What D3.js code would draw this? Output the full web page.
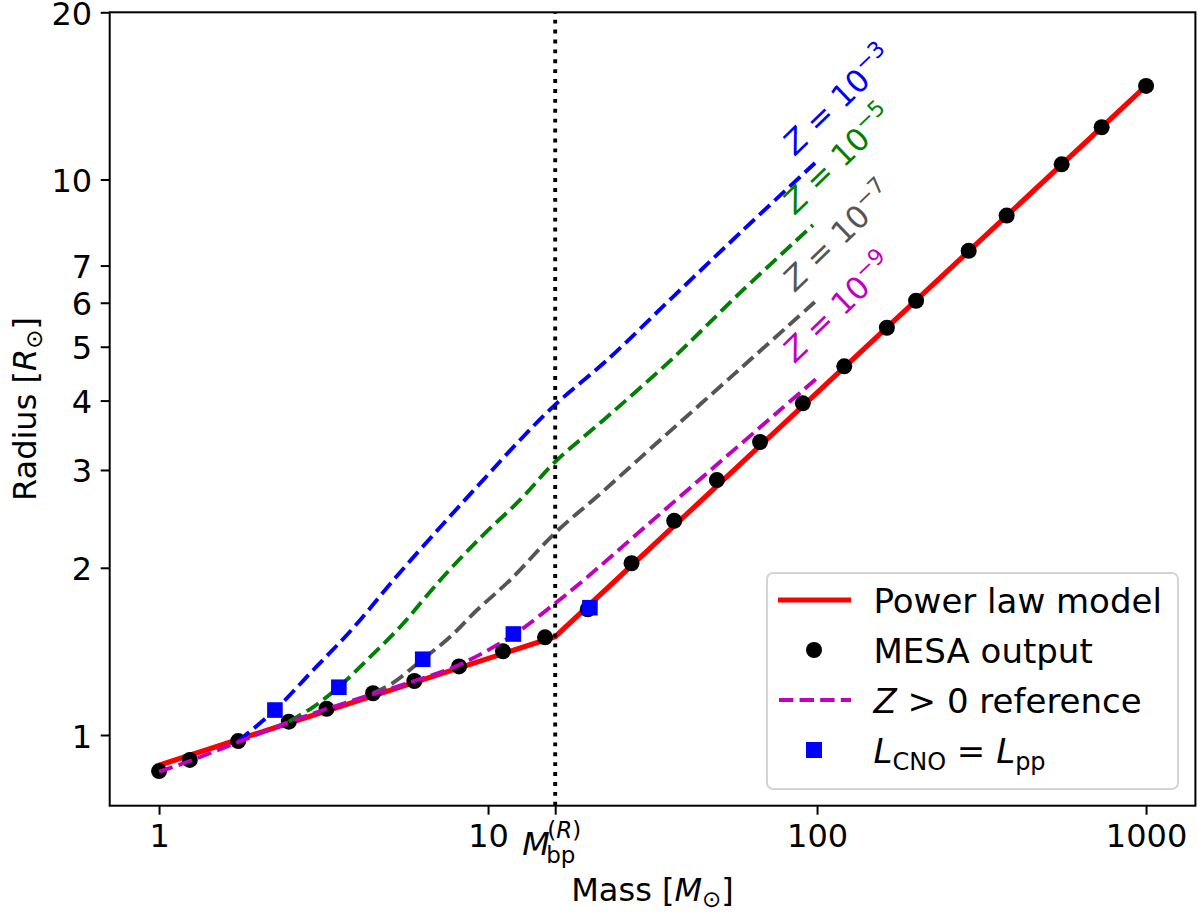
<!DOCTYPE html>
<html lang="en">
<head>
<meta charset="UTF-8">
<title>Radius vs Mass</title>
<script src="https://cdn.jsdelivr.net/npm/d3@7"></script>
<style>
	*{ margin:0; box-sizing:border-box; }
	html,body{ width:1198px; height:917px; overflow:hidden; background:#fff; }
	svg text{ font-family:"DejaVu Sans", sans-serif; fill:#000; }
	.axis path{ stroke:none; }
	.axis line{ stroke:#000; stroke-width:2; }
	.axis text{ font-size:32px; }
</style>
</head>
<body>
<svg id="svg"></svg>
<script>
// MESA output (black dots)
var mesaMass   = [1, 1.24, 1.74, 2.48, 3.23, 4.47, 5.97, 8.16, 11.1, 14.9, 20.1, 27.3, 36.8, 49.6, 67.1, 90.5, 121, 163, 200, 289, 377, 554, 733, 1000];
var mesaRadius = [0.861, 0.902, 0.975, 1.057, 1.115, 1.189, 1.251, 1.329, 1.415, 1.499, 1.684, 2.038, 2.43, 2.877, 3.369, 3.955, 4.61, 5.41, 6.05, 7.44, 8.61, 10.65, 12.42, 14.74];

// L_CNO = L_pp (blue squares)
var cnoMass   = [2.25, 3.52, 6.33, 11.94, 20.4];
var cnoRadius = [1.109, 1.219, 1.369, 1.52, 1.695];

// power law model (red)
var powMass   = [1, 16, 1000];
var powRadius = [0.882, 1.503, 14.74];

// Z > 0 reference (magenta)
var refMass   = [1, 1.242, 1.74, 2.48, 3.23, 4.47, 5.97, 8.16, 11.94, 15.76, 19.04, 30.4, 48.3, 77.2, 100];
var refRadius = [0.859, 0.898, 0.971, 1.055, 1.114, 1.185, 1.251, 1.337, 1.514, 1.714, 1.876, 2.385, 3.025, 3.846, 4.39];

// Z = 1e-3, 1e-5, 1e-7 curves
var z3Mass   = [1.74, 2.25, 2.94, 3.89, 5.22, 7.30, 9.66, 12.51, 15.98, 23.0, 36.5, 58.3, 98.6];
var z3Radius = [0.975, 1.109, 1.309, 1.558, 1.917, 2.398, 2.877, 3.397, 3.93, 4.73, 6.15, 8.01, 10.71];
var z5Mass   = [2.48, 2.94, 3.52, 4.29, 5.40, 7.25, 9.66, 12.51, 15.98, 23.0, 36.5, 58.3, 97.2];
var z5Radius = [1.057, 1.123, 1.22, 1.365, 1.565, 1.917, 2.291, 2.649, 3.101, 3.737, 4.77, 6.25, 8.28];
var z7Mass   = [4.47, 5.14, 6.33, 7.66, 9.26, 11.67, 15.98, 21.9, 31.1, 58.3, 100];
var z7Radius = [1.189, 1.241, 1.369, 1.501, 1.679, 1.901, 2.31, 2.716, 3.273, 4.56, 6.07];

var zExponents = ["3", "5", "7", "9"];
var zColors    = ["#0000ff", "#008000", "#555555", "#bf00bf"];
var zLabelMass   = 86;
var zLabelRadius = [11.02, 8.63, 6.27, 4.67];

var breakMass = 16;
var xTicks = [1, 10, breakMass, 100, 1000];
var yTicks = [1, 2, 3, 4, 5, 6, 7, 10, 20];

var W = 1198, H = 917,
	padL = 109.7, padR = 1195.4, padT = 12.3, padB = 805.7;

var svg = d3.select("#svg").attr("width", W).attr("height", H);

var x = d3.scaleLog().domain([Math.pow(10, -0.15), Math.pow(10, 3.15)]).range([padL, padR]);
var y = d3.scaleLog().domain([0.746, 20]).range([padB, padT]);

function zip(ms, rs) {
	return ms.map(function(m, i) { return [m, rs[i]]; });
}
var line = d3.line().x(function(d) { return x(d[0]); }).y(function(d) { return y(d[1]); });
var smooth = d3.line().curve(d3.curveCatmullRom.alpha(0.5))
	.x(function(d) { return x(d[0]); }).y(function(d) { return y(d[1]); });

svg.append("clipPath").attr("id", "clip")
	.append("rect").attr("x", padL).attr("y", padT).attr("width", padR - padL).attr("height", padB - padT);

var plot = svg.append("g").attr("clip-path", "url(#clip)");

// red power law
plot.append("path").datum(zip(powMass, powRadius))
	.attr("d", line).attr("fill", "none").attr("stroke", "#ff0000").attr("stroke-width", 5.2);

// black dots
plot.selectAll(".dot").data(zip(mesaMass, mesaRadius)).enter()
	.append("circle").attr("class", "dot")
	.attr("cx", function(d) { return x(d[0]); })
	.attr("cy", function(d) { return y(d[1]); })
	.attr("r", 8).attr("fill", "#000");

// Z curves
var zCurves = [zip(z3Mass, z3Radius), zip(z5Mass, z5Radius), zip(z7Mass, z7Radius), zip(refMass, refRadius)];
zCurves.forEach(function(c, i) {
	plot.append("path").datum(c)
		.attr("d", smooth).attr("fill", "none")
		.attr("stroke", zColors[i]).attr("stroke-width", 3.9)
		.attr("stroke-dasharray", "14.4,6.2");
});

// vertical dotted line at breakpoint
plot.append("line")
	.attr("x1", x(breakMass)).attr("x2", x(breakMass))
	.attr("y1", padB).attr("y2", padT)
	.attr("stroke", "#000").attr("stroke-width", 3.9)
	.attr("stroke-dasharray", "3.9,6.0");

// blue squares
plot.selectAll(".sq").data(zip(cnoMass, cnoRadius)).enter()
	.append("rect").attr("class", "sq")
	.attr("x", function(d) { return x(d[0]) - 7.8; })
	.attr("y", function(d) { return y(d[1]) - 7.8; })
	.attr("width", 15.6).attr("height", 15.6).attr("fill", "#0000ff");

// Z labels
zExponents.forEach(function(e, i) {
	var t = svg.append("text")
		.attr("transform", "translate(" + x(zLabelMass) + "," + y(zLabelRadius[i]) + ") rotate(-44)")
		.style("font-size", "31px").style("fill", zColors[i]);
	t.append("tspan").style("font-style", "italic").text("Z");
	t.append("tspan").text(" = 10");
	t.append("tspan").attr("dy", -13).style("font-size", "22px").text("\u2212" + e);
});

// axes
var xAxis = svg.append("g").attr("class", "axis")
	.attr("transform", "translate(0," + padB + ")")
	.call(d3.axisBottom(x).tickValues(xTicks).tickSize(9)
		.tickFormat(function(d) { return d === breakMass ? "" : d3.format("d")(d); }));
xAxis.selectAll("text").attr("y", 41).attr("dy", 0);

var bp = xAxis.append("g").attr("transform", "translate(" + x(breakMass) + ",0)")
	.attr("text-anchor", "start");
bp.append("text").attr("x", -33).attr("y", 49).style("font-size", "32px").style("font-style", "italic").text("M");
bp.append("text").attr("x", -9).attr("y", 57).style("font-size", "23px").text("bp");
var sup = bp.append("text").attr("x", -8).attr("y", 32).style("font-size", "23px");
sup.append("tspan").text("(");
sup.append("tspan").style("font-style", "italic").text("R");
sup.append("tspan").text(")");

var yAxis = svg.append("g").attr("class", "axis")
	.attr("transform", "translate(" + padL + ",0)")
	.call(d3.axisLeft(y).tickValues(yTicks).tickSize(9).tickFormat(d3.format("d")));
yAxis.selectAll("text").attr("x", -17.5).attr("dy", 12);

// frame
svg.append("rect").attr("x", padL).attr("y", padT)
	.attr("width", padR - padL).attr("height", padB - padT)
	.attr("fill", "none").attr("stroke", "#000").attr("stroke-width", 2);

// axis labels
var xl = svg.append("text").attr("x", (padL + padR) / 2).attr("y", 901)
	.attr("text-anchor", "middle").style("font-size", "32px");
xl.append("tspan").text("Mass [");
xl.append("tspan").style("font-style", "italic").text("M");
xl.append("tspan").attr("dy", 6).style("font-size", "23px").text("\u2299");
xl.append("tspan").attr("dy", -6).text("]");

var yl = svg.append("text")
	.attr("transform", "translate(36," + (padT + padB) / 2 + ") rotate(-90)")
	.attr("text-anchor", "middle").style("font-size", "32px");
yl.append("tspan").text("Radius [");
yl.append("tspan").style("font-style", "italic").text("R");
yl.append("tspan").attr("dy", 6).style("font-size", "23px").text("\u2299");
yl.append("tspan").attr("dy", -6).text("]");

// legend
var lg = svg.append("g");
lg.append("rect").attr("x", 767).attr("y", 573).attr("width", 411).attr("height", 216)
	.attr("rx", 6).attr("fill", "#fff").attr("fill-opacity", 0.8)
	.attr("stroke", "#d4d4d4").attr("stroke-width", 2);
var rowY = [600, 650, 700, 750];
lg.append("line").attr("x1", 778).attr("x2", 851).attr("y1", rowY[0]).attr("y2", rowY[0])
	.attr("stroke", "#ff0000").attr("stroke-width", 5.2);
lg.append("circle").attr("cx", 814).attr("cy", rowY[1]).attr("r", 8).attr("fill", "#000");
lg.append("line").attr("x1", 779).attr("x2", 851).attr("y1", rowY[2]).attr("y2", rowY[2])
	.attr("stroke", "#bf00bf").attr("stroke-width", 3.9).attr("stroke-dasharray", "14.4,6.2");
lg.append("rect").attr("x", 806).attr("y", rowY[3] - 8).attr("width", 16).attr("height", 16).attr("fill", "#0000ff");

function legendText(i) {
	return lg.append("text").attr("x", 873.5).attr("y", rowY[i] + 12.5).style("font-size", "34px");
}
legendText(0).text("Power law model");
legendText(1).text("MESA output");
var t2 = legendText(2);
t2.append("tspan").style("font-style", "italic").text("Z");
t2.append("tspan").text(" > 0 reference");
var t3 = legendText(3);
t3.append("tspan").style("font-style", "italic").text("L");
t3.append("tspan").attr("dy", 7).style("font-size", "24px").text("CNO");
t3.append("tspan").attr("dy", -7).text(" = ");
t3.append("tspan").style("font-style", "italic").text("L");
t3.append("tspan").attr("dy", 7).style("font-size", "24px").text("pp");
</script>
</body>
</html>
